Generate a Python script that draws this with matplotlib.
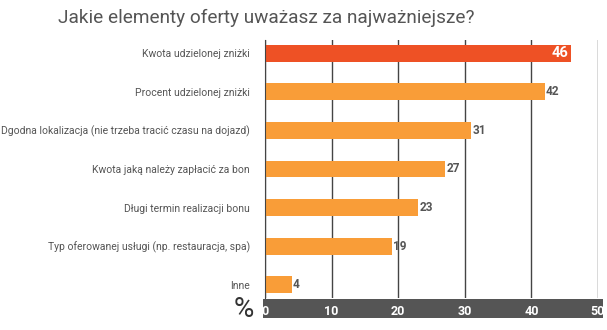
import matplotlib.pyplot as plt
from matplotlib.patches import Rectangle

categories = [
    "Kwota udzielonej zniżki",
    "Procent udzielonej zniżki",
    "Dgodna lokalizacja (nie trzeba tracić czasu na dojazd)",
    "Kwota jaką należy zapłacić za bon",
    "Długi termin realizacji bonu",
    "Typ oferowanej usługi (np. restauracja, spa)",
    "Inne",
]
values = [46, 42, 31, 27, 23, 19, 4]
x_ticks = [0, 10, 20, 30, 40, 50]

HIGHLIGHT = "#EE5125"
ORANGE = "#F99D38"
TEXT = "#555555"
GRID = "#444444"

plt.rcParams["font.family"] = ["Roboto", "DejaVu Sans"]

fig = plt.figure(figsize=(6.07, 3.30), dpi=100)
ax = fig.add_axes([265 / 607, 32 / 330, 333 / 607, 258 / 330])

y = list(range(len(categories)))
colors = [HIGHLIGHT] + [ORANGE] * (len(values) - 1)
ax.barh(y, values, height=0.44, color=colors, zorder=3)

ax.set_xlim(0, 50)
ax.set_ylim(6.34, -0.34)
ax.set_yticks(y)
ax.set_yticklabels(categories, fontsize=7.5, color=TEXT)
ax.tick_params(axis="y", length=0, pad=11)

ax.set_xticks(x_ticks)
ax.set_xticklabels([str(t) for t in x_ticks], fontsize=9, fontweight="bold", color="white")
ax.tick_params(axis="x", length=0, pad=5)
ax.xaxis.grid(True, color=GRID, lw=1.0, zorder=1)
for s in ["top", "right", "bottom"]:
    ax.spines[s].set_visible(False)
ax.spines["left"].set_color(GRID)
ax.spines["left"].set_zorder(4)

# dark band behind the x tick labels
ax.add_patch(Rectangle((-0.006, -0.078), 1.02, 0.074, transform=ax.transAxes,
                       facecolor="#555555", edgecolor="none", clip_on=False, zorder=0))
ax.text(-0.065, -0.045, "%", transform=ax.transAxes, fontsize=20, color="#333333",
        ha="center", va="center")

for i, v in enumerate(values):
    if i == 0:
        ax.text(v - 0.4, i, str(v), ha="right", va="center", fontsize=10.5,
                fontweight="bold", color="white", zorder=5)
    else:
        ax.text(v + 0.2, i, str(v), ha="left", va="center", fontsize=8.5,
                fontweight="bold", color=TEXT, zorder=5)

fig.text(58 / 607, 1 - 18 / 330, "Jakie elementy oferty uważasz za najważniejsze?",
         fontsize=13.7, color=TEXT, ha="left", va="center")

fig.savefig("out.png", dpi=100, facecolor="white")
